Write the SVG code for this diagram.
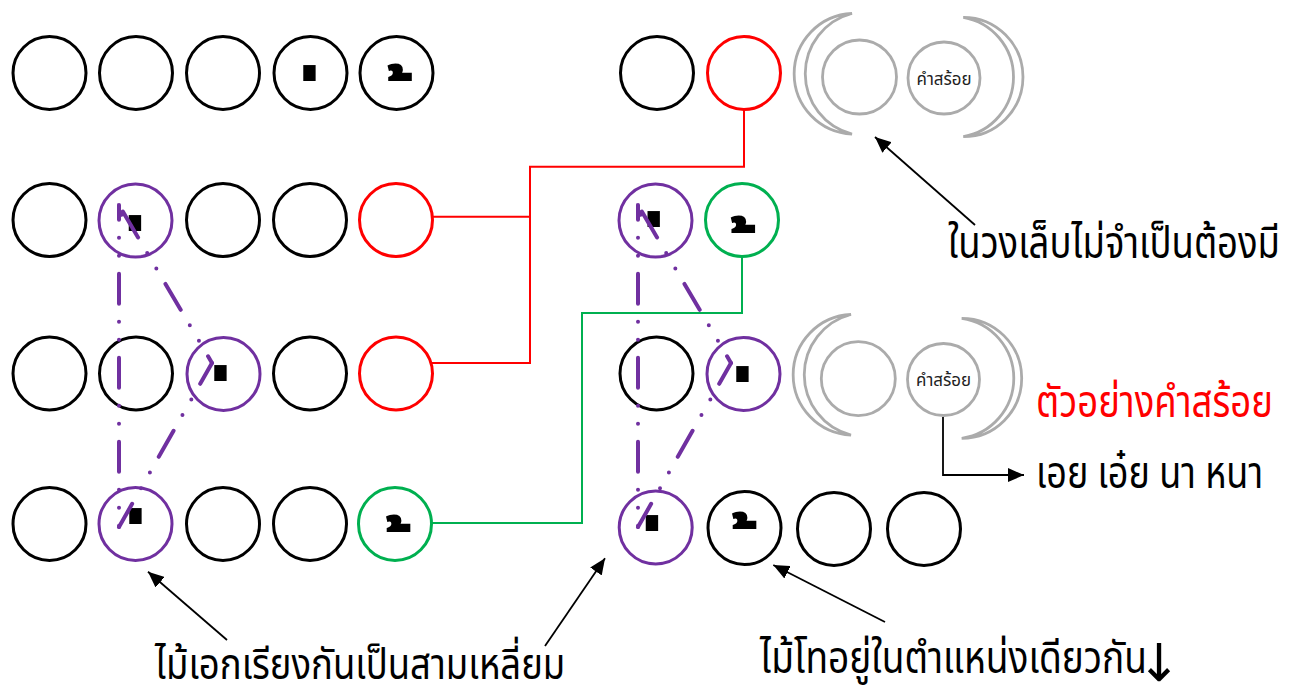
<svg xmlns="http://www.w3.org/2000/svg" width="1295" height="698" viewBox="0 0 1295 698">
<style>
.c{fill:none;stroke:#000;stroke-width:3}
.p{stroke:#7030A0}
.r{stroke:#FF0000}
.g{stroke:#00B050}
.gr{fill:none;stroke:#ABABAB;stroke-width:2.8}
.mk{font-family:"Noto Sans Thai","Noto Sans Thai UI","Noto Sans",sans-serif;font-weight:900;font-size:72px;fill:#000;text-anchor:end}
.lbl{font-family:"Noto Sans Thai","Noto Sans Thai UI","Noto Sans",sans-serif;font-size:44px;fill:#000}
.sm{font-family:"Noto Sans Thai","Noto Sans Thai UI","Noto Sans",sans-serif;font-size:17px;fill:#222}
.dd{fill:none;stroke:#7030A0;stroke-width:4;stroke-linecap:round;stroke-dasharray:30 18 0 18 0 18}
.ln{fill:none;stroke-width:2}
.ar{fill:none;stroke:#000;stroke-width:1.8}
</style>
<defs>
<marker id="ah" markerUnits="userSpaceOnUse" markerWidth="16" markerHeight="14" refX="16" refY="7" orient="auto"><path d="M0,0 L16,7 L0,14 Z" fill="#000"/></marker>
</defs>
<g id="connectors">
<path class="ln r" d="M744,109.5 V166.7 H530 V363 H431.5 M530,216.7 H432.5"/>
<path class="ln g" d="M742,256.5 V313 H582 V523 H431.5"/>
<path class="ar" d="M975,225 L875,137" marker-end="url(#ah)"/>
<path class="ar" d="M943,417 V475 H1024" marker-end="url(#ah)"/>
<path class="ar" d="M227,640 L148,571.7" marker-end="url(#ah)"/>
<path class="ar" d="M545,646 L605,558.3" marker-end="url(#ah)"/>
<path class="ar" d="M885,622 L773.3,565" marker-end="url(#ah)"/>
</g>
<g id="row1-left">
<circle class="c" cx="49.5" cy="73" r="36.5"/>
<circle class="c" cx="136" cy="73" r="36.5"/>
<circle class="c" cx="223" cy="73" r="36.5"/>
<circle class="c" cx="310.5" cy="73" r="36.5"/>
<circle class="c" cx="396.5" cy="73" r="36.5"/>
<text class="mk" x="321.2" y="126.3">&#160;&#3656;</text>
<text class="mk" x="416" y="126.2">&#160;&#3657;</text>
</g>
<g id="row2-left">
<circle class="c" cx="49.5" cy="220" r="36.5"/>
<circle class="c p" cx="135.5" cy="220.5" r="36.5"/>
<circle class="c" cx="223" cy="220" r="36.5"/>
<circle class="c" cx="310" cy="220" r="36.5"/>
<circle class="c r" cx="396" cy="220" r="36.5"/>
<text class="mk" x="146.8" y="275.8">&#160;&#3656;</text>
</g>
<g id="row3-left">
<circle class="c" cx="49.5" cy="373.5" r="36.5"/>
<circle class="c" cx="136" cy="373.5" r="36.5"/>
<circle class="c p" cx="223.5" cy="374" r="36.5"/>
<circle class="c" cx="310" cy="373.5" r="36.5"/>
<circle class="c r" cx="396" cy="373.5" r="36.5"/>
<text class="mk" x="232.3" y="425.8">&#160;&#3656;</text>
</g>
<g id="row4-left">
<circle class="c" cx="49.5" cy="524" r="36.5"/>
<circle class="c p" cx="135.5" cy="524" r="36.5"/>
<circle class="c" cx="223" cy="524" r="36.5"/>
<circle class="c" cx="310" cy="524" r="36.5"/>
<circle class="c g" cx="395" cy="524" r="36.5"/>
<text class="mk" x="147.2" y="569.3">&#160;&#3656;</text>
<text class="mk" x="414.5" y="577">&#160;&#3657;</text>
</g>
<g id="triangle-left">
<path class="dd" d="M119,205 L212,363" stroke-dashoffset="76.4"/>
<path class="dd" d="M212,363 L119,527" stroke-dashoffset="6.1"/>
<path class="dd" d="M119,205 L119,527" stroke-dashoffset="15.3"/>
<polygon points="117.5,203 117.5,218 124,216" fill="#7030A0"/>
</g>
<g id="row1-right">
<circle class="c" cx="657" cy="73" r="36.5"/>
<circle class="c r" cx="744" cy="73" r="36.5"/>
</g>
<g id="optional-1">
<path class="gr" d="M852,13.5 A60.3,60.3 0 0 0 852,134 A62.2,62.2 0 0 1 852,13.5 Z"/>
<path class="gr" d="M963.3,17.3 A59.7,59.7 0 0 1 963.3,136.7 A60.6,60.6 0 0 0 963.3,17.3 Z"/>
<circle class="gr" cx="859.5" cy="77" r="37"/>
<circle class="gr" cx="944" cy="78" r="36"/>
<text class="sm" x="944" y="85" text-anchor="middle" textLength="55" lengthAdjust="spacingAndGlyphs">คำสร้อย</text>
</g>
<g id="row2-right">
<circle class="c p" cx="655.5" cy="220.5" r="36.5"/>
<circle class="c g" cx="742" cy="220" r="36.5"/>
<text class="mk" x="665.5" y="272.2">&#160;&#3656;</text>
<text class="mk" x="759.3" y="278.2">&#160;&#3657;</text>
</g>
<g id="row3-right">
<circle class="c" cx="656.5" cy="373.5" r="36.5"/>
<circle class="c p" cx="743.5" cy="374" r="36.5"/>
<text class="mk" x="754.3" y="427.2">&#160;&#3656;</text>
</g>
<g id="optional-2">
<path class="gr" d="M851,314.5 A60.3,60.3 0 0 0 851,435 A62.2,62.2 0 0 1 851,314.5 Z"/>
<path class="gr" d="M961.7,318.3 A59.7,59.7 0 0 1 961.7,438.3 A60.6,60.6 0 0 0 961.7,318.3 Z"/>
<circle class="gr" cx="858.3" cy="378.7" r="37"/>
<circle class="gr" cx="943.5" cy="379.5" r="36"/>
<text class="sm" x="943.5" y="386" text-anchor="middle" textLength="55" lengthAdjust="spacingAndGlyphs">คำสร้อย</text>
</g>
<g id="row4-right">
<circle class="c p" cx="655.7" cy="527.5" r="36.5"/>
<circle class="c" cx="744.5" cy="528" r="36.5"/>
<circle class="c" cx="834" cy="529" r="36.5"/>
<circle class="c" cx="924" cy="529" r="36.5"/>
<text class="mk" x="663.8" y="575.5">&#160;&#3656;</text>
<text class="mk" x="760.5" y="574">&#160;&#3657;</text>
</g>
<g id="triangle-right">
<path class="dd" d="M638,205 L731,363" stroke-dashoffset="76.4"/>
<path class="dd" d="M731,363 L638,527" stroke-dashoffset="6.1"/>
<path class="dd" d="M638,205 L638,527" stroke-dashoffset="15.3"/>
<polygon points="636.5,203 636.5,218 643,216" fill="#7030A0"/>
</g>
<g id="labels">
<text class="lbl" transform="translate(948,258) scale(0.83,1)" textLength="400" lengthAdjust="spacingAndGlyphs">ในวงเล็บไม่จำเป็นต้องมี</text>
<text class="lbl" transform="translate(1036,417) scale(0.83,1)" textLength="285.5" lengthAdjust="spacingAndGlyphs" style="fill:#FF0000">ตัวอย่างคำสร้อย</text>
<text class="lbl" transform="translate(1036,488) scale(0.83,1)" textLength="273.5" lengthAdjust="spacingAndGlyphs">เอย เอ๋ย นา หนา</text>
<text class="lbl" transform="translate(155,679) scale(0.87,1)" textLength="471.5" lengthAdjust="spacingAndGlyphs" style="font-size:42px">ไม้เอกเรียงกันเป็นสามเหลี่ยม</text>
<text class="lbl" transform="translate(760,673) scale(0.83,1)" textLength="466.3" lengthAdjust="spacingAndGlyphs">ไม้โทอยู่ในตำแหน่งเดียวกัน</text>
<text x="1159" y="681" text-anchor="middle" style="font-family:'DejaVu Sans',sans-serif;font-size:52px;fill:#000">↓</text>
</g>
</svg>
